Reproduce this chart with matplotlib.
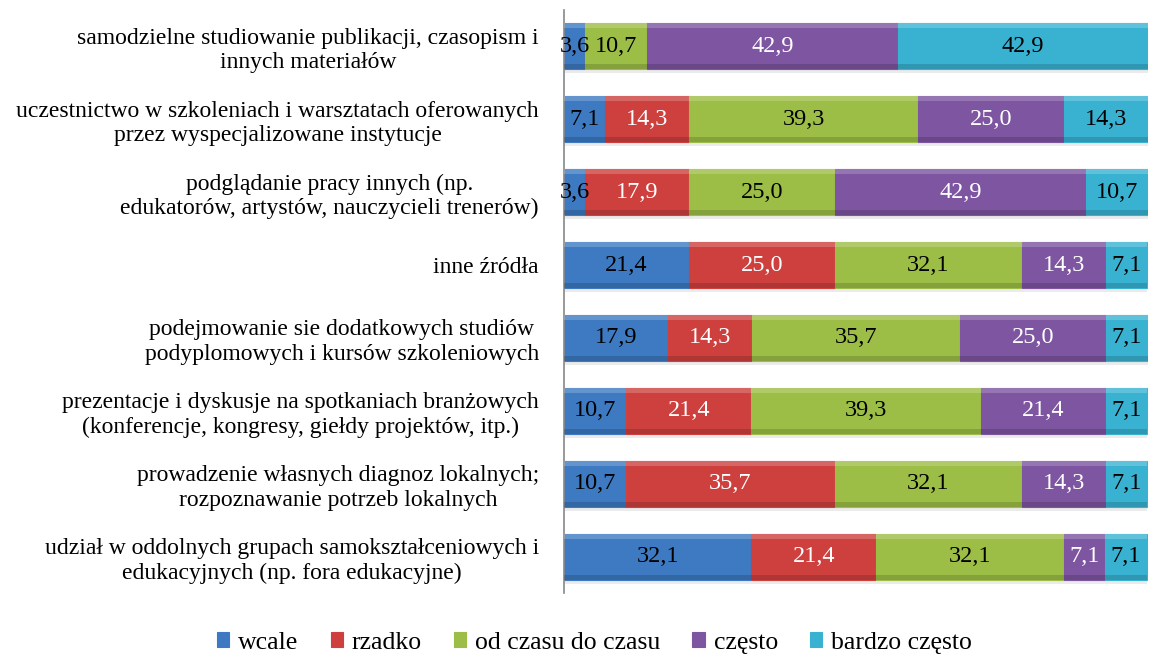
import numpy as np
import matplotlib
matplotlib.use("Agg")
import matplotlib.pyplot as plt
from matplotlib.patches import Rectangle

plt.rcParams['font.family'] = ['Liberation Serif', 'DejaVu Serif']

categories = [
    "samodzielne studiowanie publikacji, czasopism i\ninnych materiałów",
    "uczestnictwo w szkoleniach i warsztatach oferowanych\nprzez wyspecjalizowane instytucje",
    "podglądanie pracy innych (np.\nedukatorów, artystów, nauczycieli trenerów)",
    "inne źródła",
    "podejmowanie sie dodatkowych studiów\npodyplomowych i kursów szkoleniowych",
    "prezentacje i dyskusje na spotkaniach branżowych\n(konferencje, kongresy, giełdy projektów, itp.)",
    "prowadzenie własnych diagnoz lokalnych;\nrozpoznawanie potrzeb lokalnych",
    "udział w oddolnych grupach samokształceniowych i\nedukacyjnych (np. fora edukacyjne)",
]
series = ["wcale", "rzadko", "od czasu do czasu", "często", "bardzo często"]
wcale = [3.6, 7.1, 3.6, 21.4, 17.9, 10.7, 10.7, 32.1]
rzadko = [0.0, 14.3, 17.9, 25.0, 14.3, 21.4, 35.7, 21.4]
od_czasu = [10.7, 39.3, 25.0, 32.1, 35.7, 39.3, 32.1, 32.1]
czesto = [42.9, 25.0, 42.9, 14.3, 25.0, 21.4, 14.3, 7.1]
bardzo = [42.9, 14.3, 10.7, 7.1, 7.1, 7.1, 7.1, 7.1]

colors = ["#3d7ac1", "#cd403e", "#9dbe46", "#7d55a0", "#39b2d2"]
label_colors = ["black", "white", "black", "white", "black"]

fig = plt.figure(figsize=(11.5, 6.57), dpi=100)
ax = fig.add_axes([0.4904, 0.0967, 0.5076, 0.8888])

y = np.arange(len(categories))
left = np.zeros(len(categories))
bar_h = 0.63
for vals, c, lc, name in zip([wcale, rzadko, od_czasu, czesto, bardzo], colors, label_colors, series):
    vals = np.array(vals)
    bars = ax.barh(y, vals, left=left, height=bar_h, color=c, edgecolor=c, linewidth=0.8, label=name, zorder=2)
    # simple bevel: light strip on top, dark strip at the bottom
    for b in bars:
        x0, y0, w, h = b.get_x(), b.get_y(), b.get_width(), b.get_height()
        if w <= 0:
            continue
        ax.add_patch(Rectangle((x0, y0), w, h * 0.1, color="white", alpha=0.2, lw=0, zorder=3))
        ax.add_patch(Rectangle((x0, y0 + h * 0.9), w, h * 0.1, color="black", alpha=0.15, lw=0, zorder=3))
        ax.add_patch(Rectangle((x0, y0 + h), w, 0.05, color="black", alpha=0.08, lw=0, zorder=1))
    for yi, l, v in zip(y, left, vals):
        if v > 0:
            ax.text(l + v / 2, yi, f"{v:.1f}".replace(".", ","), ha="center", va="center",
                    color=lc, fontsize=17.5, zorder=4)
    left += vals

ax.set_xlim(0, 100)
ax.set_ylim(len(categories) - 0.5, -0.5)
ax.set_yticks(y)
ax.set_yticklabels(categories, fontsize=17)
for t in ax.get_yticklabels():
    t.set_multialignment("center")
ax.tick_params(axis="y", length=0, pad=18)
ax.set_xticks([])
for s in ["top", "right", "bottom"]:
    ax.spines[s].set_visible(False)
ax.spines["left"].set_color("#888888")
ax.spines["left"].set_linewidth(1.2)

fig.legend(loc="lower center", bbox_to_anchor=(0.517, -0.03), ncol=5, frameon=False,
           fontsize=18.5, handlelength=0.47, handleheight=0.47, handletextpad=0.35, columnspacing=1.25)

fig.savefig("out.png", dpi=100)
